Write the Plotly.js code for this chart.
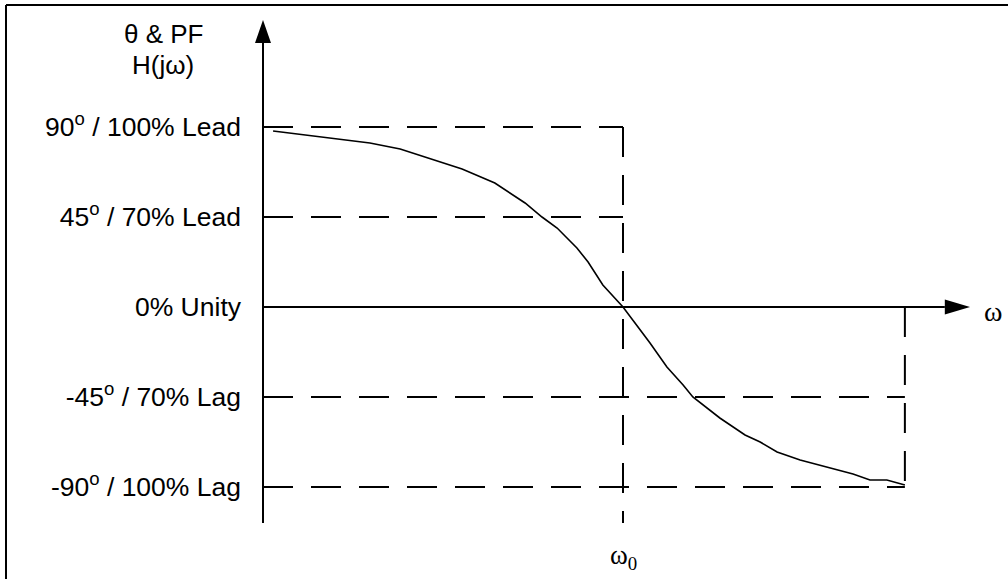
<!DOCTYPE html>
<html>
<head>
<meta charset="utf-8">
<script src="https://cdn.plot.ly/plotly-3.0.1.min.js"></script>
<style>html,body{margin:0;padding:0;background:#fff;}#chart{width:1008px;height:579px;}</style>
</head>
<body>
<div id="chart"></div>
<script>
// Curve: frequency relative to ω0 (x) and phase angle in degrees (y)
const omegaRatio = [0.028, 0.297, 0.381, 0.464, 0.553, 0.644, 0.728, 0.775, 0.817, 0.872, 0.903, 0.944, 1.0, 1.075, 1.122, 1.167, 1.194, 1.269, 1.339, 1.381, 1.428, 1.492, 1.575, 1.639, 1.686, 1.733, 1.783];
const phaseDeg   = [88, 82, 79, 74, 69, 62, 52, 45, 39.5, 29.5, 22.5, 11, 0, -18, -30, -39, -45, -55.5, -64, -67.5, -72.5, -76.5, -80.5, -83.5, -86.5, -86.5, -89];

// Tick labels on the vertical axis
const levelVals   = [90, 45, 0, -45, -90];
const levelLabels = ['90<sup>o</sup> / 100% Lead', '45<sup>o</sup> / 70% Lead', '0% Unity', '-45<sup>o</sup> / 70% Lag', '-90<sup>o</sup> / 100% Lag'];

// Key x positions
const omega0 = 1.0;
const omegaEnd = 1.783;

// Geometry (axis extents)
const W = 1008, H = 579;
const pxX = 360, pxY = 2;           // pixels per x-unit / per degree
const xAxisPx = 263, yZeroPx = 307;
const xRange = [-xAxisPx / pxX, (W - xAxisPx) / pxX];
const yRange = [(yZeroPx - H) / pxY, yZeroPx / pxY];

const yTop = 143.5, yArrowBase = 132, yBottom = -108;
const xTip = 1.964, xArrowBase = 1.894;
const arrowHalfX = 8 / pxX, arrowHalfY = 7.5 / pxY;

const dashStyle = {color: '#000', width: 2, dash: '30px,18px'};
const solid = {color: '#000', width: 2};

function seg(x0, y0, x1, y1, line) {
  return {type: 'line', xref: 'x', yref: 'y', x0, y0, x1, y1, line};
}

const shapes = [
  // dashed reference lines
  seg(0, levelVals[0], omega0, levelVals[0], dashStyle),
  seg(0, levelVals[1], omega0, levelVals[1], dashStyle),
  seg(0, levelVals[3], omegaEnd, levelVals[3], dashStyle),
  seg(0, levelVals[4], omegaEnd, levelVals[4], dashStyle),
  seg(omega0, levelVals[0], omega0, yBottom, dashStyle),
  seg(omegaEnd, 0, omegaEnd, levelVals[4], dashStyle),
  // axes
  seg(0, yArrowBase, 0, yBottom, solid),
  seg(0, 0, xArrowBase, 0, solid),
  // arrow heads
  {type: 'path', xref: 'x', yref: 'y', fillcolor: '#000', line: {width: 0},
   path: `M ${-arrowHalfX},${yArrowBase} L 0,${yTop} L ${arrowHalfX},${yArrowBase} Z`},
  {type: 'path', xref: 'x', yref: 'y', fillcolor: '#000', line: {width: 0},
   path: `M ${xArrowBase},${-arrowHalfY} L ${xTip},0 L ${xArrowBase},${arrowHalfY} Z`},
  // outer frame (top and left edges visible)
  {type: 'line', xref: 'paper', yref: 'paper', x0: 6 / W, y0: 1 - 5 / H, x1: 1.01, y1: 1 - 5 / H, line: solid},
  {type: 'line', xref: 'paper', yref: 'paper', x0: 6 / W, y0: 1 - 5 / H, x1: 6 / W, y1: -0.01, line: solid}
];

const sans = 'Liberation Sans, Arial, sans-serif';
const serif = 'Liberation Serif, Times New Roman, serif';

const annotations = [
  {xref: 'paper', yref: 'paper', x: 163 / W, y: 1 - 34 / H, text: 'θ & PF', showarrow: false,
   xanchor: 'center', yanchor: 'middle', font: {family: sans, size: 26, color: '#000'}},
  {xref: 'paper', yref: 'paper', x: 163 / W, y: 1 - 65 / H, text: 'H(jω)', showarrow: false,
   xanchor: 'center', yanchor: 'middle', font: {family: sans, size: 26, color: '#000'}},
  {xref: 'paper', yref: 'y', x: 993 / W, y: -2, text: 'ω', showarrow: false,
   xanchor: 'center', yanchor: 'middle', font: {family: serif, size: 28, color: '#000'}},
  {xref: 'x', yref: 'paper', x: omega0, y: 1 - 557 / H, text: 'ω<sub>0</sub>', showarrow: false,
   xanchor: 'center', yanchor: 'middle', font: {family: serif, size: 27, color: '#000'}}
];

const trace = {
  x: omegaRatio, y: phaseDeg, type: 'scatter', mode: 'lines',
  line: {color: '#000', width: 1.6}, hoverinfo: 'skip', showlegend: false
};

const layout = {
  width: W, height: H,
  margin: {l: 0, r: 0, t: 0, b: 0, pad: 0},
  paper_bgcolor: '#fff', plot_bgcolor: '#fff',
  showlegend: false,
  xaxis: {range: xRange, visible: false, fixedrange: true},
  yaxis: {range: yRange, anchor: 'free', position: xAxisPx / W, side: 'left',
          tickmode: 'array', tickvals: levelVals, ticktext: levelLabels,
          showline: false, showgrid: false, zeroline: false, ticks: '',
          ticklabelstandoff: 22, automargin: false, fixedrange: true,
          tickfont: {family: sans, size: 26.5, color: '#000'}},
  shapes, annotations
};

Plotly.newPlot('chart', [trace], layout, {displayModeBar: false, staticPlot: true});
</script>
</body>
</html>
